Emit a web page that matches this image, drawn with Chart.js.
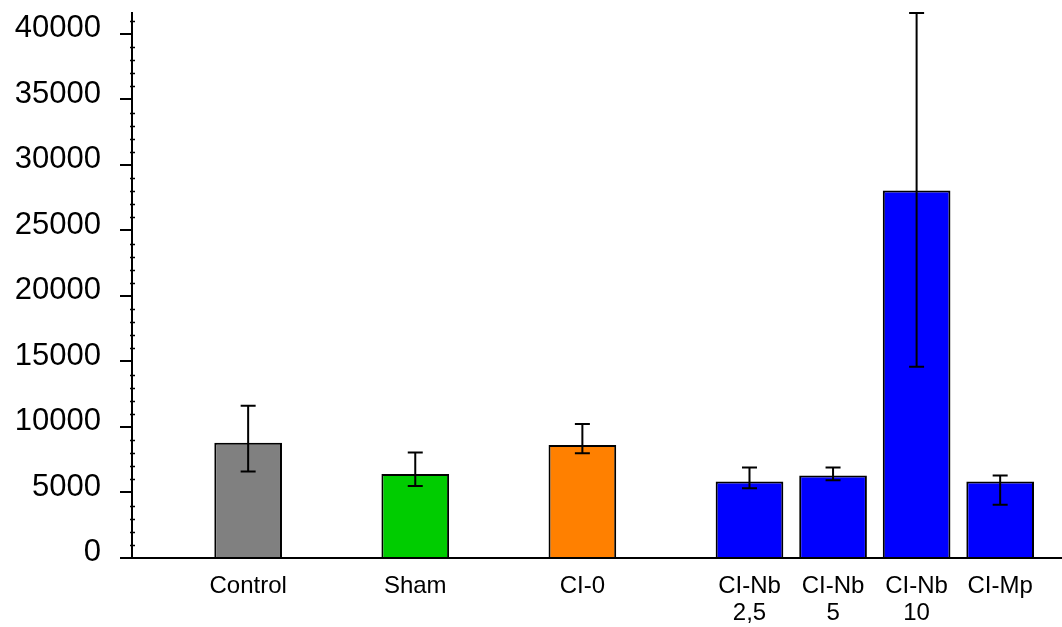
<!DOCTYPE html>
<html>
<head>
<meta charset="utf-8">
<script src="https://cdn.jsdelivr.net/npm/chart.js@4/dist/chart.umd.min.js"></script>
<style>
  html, body { margin: 0; padding: 0; background: #fff; }
  #wrap { width: 1062px; height: 627px; }
</style>
</head>
<body>
<div id="wrap"><canvas id="c" width="1062" height="627"></canvas></div>
<script>
// Group labels; empty strings leave a gap between groups
const categories = ['Control', '', 'Sham', '', 'CI-0', '', ['CI-Nb', '2,5'], ['CI-Nb', '5'], ['CI-Nb', '10'], 'CI-Mp'];
// Mean value per group (null = gap)
const means = [8800, null, 6420, null, 8630, null, 5840, 6290, 28060, 5840];
// Upper and lower ends of the error bars
const errUpper = [11630, null, 8050, null, 10230, null, 6900, 6900, 41600, 6290];
const errLower = [6600, null, 5490, null, 8000, null, 5330, 5940, 14600, 4060];
// Bar fill per group
const barColors = ['#808080', null, '#00CC00', null, '#FF8000', null, '#0000FF', '#0000FF', '#0000FF', '#0000FF'];
// Labelled y ticks and minor tick step
const yTicks = [0, 5000, 10000, 15000, 20000, 25000, 30000, 35000, 40000];
const yMinorStep = 1000;
const yMax = 41600;

const FONT = '"Liberation Sans", Arial, Helvetica, sans-serif';

const used = [];
categories.forEach((c, i) => { if (means[i] !== null) used.push(i); });

const points = used.map(i => ({ x: i, y: means[i] }));
const colors = used.map(i => barColors[i]);

// Vertical error bars with short caps, drawn over the bars
const errorBars = {
  id: 'errorBars',
  afterDatasetsDraw(chart) {
    const ctx = chart.ctx;
    const y = chart.scales.y;
    const meta = chart.getDatasetMeta(0);
    ctx.save();
    ctx.strokeStyle = '#000';
    ctx.lineWidth = 2;
    meta.data.forEach((el, k) => {
      const i = used[k];
      const cx = el.x;
      const top = y.getPixelForValue(errUpper[i]);
      const bot = y.getPixelForValue(errLower[i]);
      const cap = 7.5;
      ctx.beginPath();
      ctx.moveTo(cx, top); ctx.lineTo(cx, bot);
      ctx.moveTo(cx - cap, top); ctx.lineTo(cx + cap, top);
      ctx.moveTo(cx - cap, bot); ctx.lineTo(cx + cap, bot);
      ctx.stroke();
    });
    ctx.restore();
  }
};

// Small unlabelled ticks on the y axis between the labelled ones
const minorTicks = {
  id: 'minorTicks',
  afterDraw(chart) {
    const ctx = chart.ctx;
    const y = chart.scales.y;
    const x0 = chart.chartArea.left;
    ctx.save();
    ctx.strokeStyle = '#000';
    ctx.lineWidth = 1.5;
    for (let v = yMinorStep; v < yMax; v += yMinorStep) {
      if (v % 5000 === 0) continue;
      const py = Math.round(y.getPixelForValue(v)) + 0.5;
      ctx.beginPath();
      ctx.moveTo(x0 - 2, py);
      ctx.lineTo(x0 + 3, py);
      ctx.stroke();
    }
    ctx.restore();
  }
};

new Chart(document.getElementById('c'), {
  type: 'bar',
  data: {
    datasets: [{
      data: points,
      backgroundColor: colors,
      borderColor: '#000',
      borderWidth: 2,
      borderSkipped: 'start',
      barPercentage: 0.81,
      categoryPercentage: 1
    }]
  },
  options: {
    responsive: false,
    animation: false,
    devicePixelRatio: 1,
    layout: { padding: { top: 13, left: 0, right: 0, bottom: 0 } },
    plugins: { legend: { display: false }, tooltip: { enabled: false } },
    scales: {
      x: {
        type: 'linear',
        offset: false,
        bounds: 'data',
        min: -1.39,
        max: 9.74,
        afterBuildTicks(scale) { scale.ticks = used.map(v => ({ value: v })); },
        afterFit(scale) { scale.height = 69; scale.paddingLeft = 0; scale.paddingRight = 0; },
        ticks: {
          autoSkip: false,
          maxRotation: 0,
          minRotation: 0,
          padding: 15,
          color: '#000',
          font: { family: FONT, size: 24, lineHeight: 1.13 },
          callback: v => categories[v]
        },
        grid: { display: true, offset: false, drawOnChartArea: false, drawTicks: false, color: 'rgba(0,0,0,0)' },
        border: { display: true, color: '#000', width: 2 }
      },
      y: {
        min: 0,
        max: yMax,
        afterBuildTicks(scale) { scale.ticks = yTicks.map(v => ({ value: v })); },
        afterFit(scale) { scale.width = 132; scale.paddingTop = 0; scale.paddingBottom = 0; },
        ticks: {
          padding: 19,
          labelOffset: -5.5,
          color: '#000',
          font: { family: FONT, size: 31 },
          callback: v => String(v)
        },
        grid: { display: true, drawOnChartArea: false, drawTicks: true, tickLength: 12, color: '#000', lineWidth: 2 },
        border: { display: true, color: '#000', width: 2 }
      }
    }
  },
  plugins: [errorBars, minorTicks]
});
</script>
</body>
</html>
